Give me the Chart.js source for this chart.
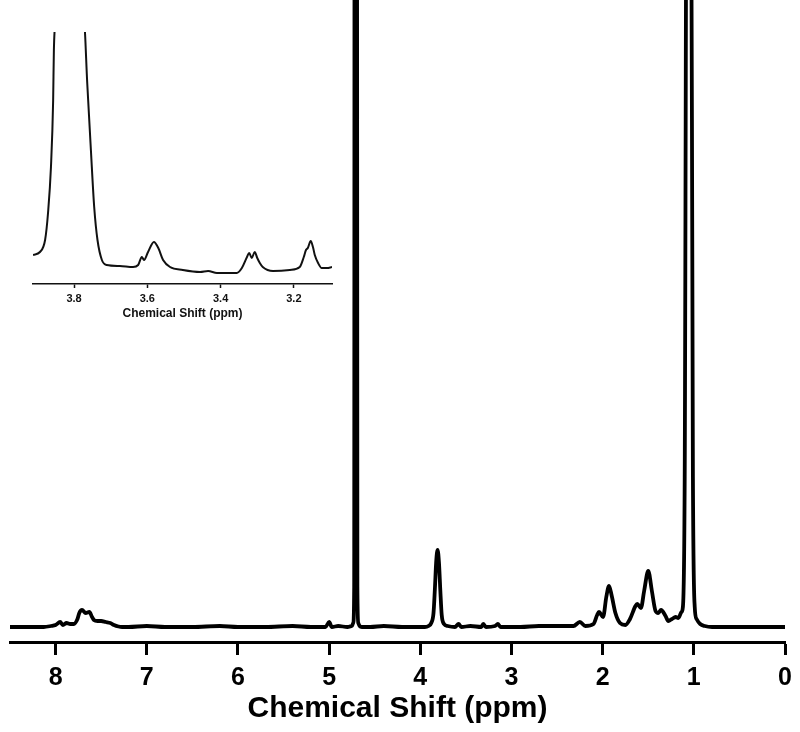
<!DOCTYPE html>
<html>
<head>
<meta charset="utf-8">
<script src="https://cdn.jsdelivr.net/npm/chart.js@4.4.0/dist/chart.umd.min.js"></script>
<style>
  body { margin: 0; background: #fff; }
  #wrap { position: relative; width: 800px; height: 732px; }
  #mainChart { position: absolute; left: 0; top: 0; }
  #insetChart { position: absolute; left: 0; top: 0; }
</style>
</head>
<body>
<div id="wrap">
  <canvas id="mainChart" width="800" height="732"></canvas>
  <canvas id="insetChart" width="345" height="330"></canvas>
</div>
<script>
// main spectrum, chemical shift (ppm) and intensity above baseline
const mainPpm = [
  8.50, 8.30, 8.13, 8.05, 8.00, 7.95, 7.92, 7.88, 7.84, 7.80, 7.76, 7.74, 7.71, 7.67, 7.63, 7.60, 7.58,
  7.54, 7.50, 7.45, 7.40, 7.36, 7.31, 7.27, 7.20, 7.00, 6.80, 6.50, 6.20, 6.00, 5.70, 5.40, 5.20, 5.04,
  5.00, 4.97, 4.90, 4.80, 4.75, 4.735, 4.725, 4.72, 4.695, 4.69, 4.68, 4.665, 4.64, 4.55, 4.40,
  4.20, 4.05, 3.95, 3.91, 3.88, 3.855, 3.84, 3.825, 3.81, 3.795, 3.78, 3.765, 3.74, 3.70, 3.62,
  3.58, 3.55, 3.45, 3.33, 3.31, 3.28, 3.18, 3.15, 3.12, 2.90, 2.70, 2.54, 2.40, 2.32, 2.25, 2.19,
  2.10, 2.06, 2.04, 1.995, 1.96, 1.93, 1.90, 1.86, 1.81, 1.75, 1.70, 1.64, 1.62, 1.58, 1.545,
  1.50, 1.46, 1.42, 1.39, 1.36, 1.31, 1.28, 1.24, 1.20, 1.17, 1.135, 1.12, 1.10, 1.075, 1.035,
  1.01, 0.99, 0.97, 0.93, 0.88, 0.80, 0.60, 0.40, 0.20, 0.00
];
const mainIntensity = [
  0, 0, 0, 1, 2, 5, 2, 4, 3, 3, 8, 14, 17, 14, 15, 10, 7,
  6, 6, 5, 4, 2, 0.5, 0, 0, 1, 0, 0, 1, 0, 0, 1, 0, 0,
  5, 0, 1, 0, 1, 4, 40, 900, 900, 40, 4, 1, 0, 0, 1,
  0, 0, 0, 1, 4, 14, 38, 66, 77, 64, 36, 12, 3, 1, 0,
  3, 0, 1, 0, 3, 0, 1, 3, 0, 0, 1, 1, 1, 1, 5, 1,
  3, 12, 15, 10, 30, 41, 31, 14, 4, 2, 8, 21, 23, 19, 36,
  56, 36, 16, 14, 17, 11, 6, 8, 10, 9, 15, 20, 150, 900, 900,
  150, 20, 8, 3, 1, 0, 0, 0, 0, 0
];

// inset, zoom on 3.9 - 3.1 ppm
const insetPpm = [
  3.912, 3.893, 3.879, 3.871, 3.863, 3.857, 3.855, 3.849, 3.773, 3.764, 3.754, 3.745, 3.736,
  3.724, 3.711, 3.675, 3.639, 3.625, 3.615, 3.609, 3.598, 3.582, 3.570, 3.557, 3.538, 3.503,
  3.456, 3.434, 3.410, 3.356, 3.342, 3.328, 3.322, 3.315, 3.307, 3.300, 3.293, 3.285, 3.257,
  3.211, 3.184, 3.173, 3.167, 3.162, 3.154, 3.148, 3.143, 3.134, 3.124, 3.110, 3.096
];
const insetIntensity = [
  29, 32, 44, 71, 117, 184, 234, 262, 262, 201, 134, 77, 44,
  24, 19, 18, 17, 19, 27, 24, 32, 42, 36, 24, 17, 14,
  12, 13, 11, 11, 16, 27, 31, 26, 32, 26, 21, 17, 13,
  14, 17, 27, 34, 36, 43, 37, 29, 21, 16, 16, 17
];

const mainTicks = [8, 7, 6, 5, 4, 3, 2, 1, 0];
const insetTicks = [3.8, 3.6, 3.4, 3.2];

const fontFamily = "'Liberation Sans', Arial, sans-serif";

function toPoints(xs, ys) {
  return xs.map((x, i) => ({ x: x, y: ys[i] }));
}

function fixTicks(list) {
  return function (scale) {
    scale.ticks = list.map(v => ({ value: v }));
  };
}

// main chart
new Chart(document.getElementById('mainChart'), {
  type: 'scatter',
  data: {
    datasets: [{
      data: toPoints(mainPpm, mainIntensity),
      showLine: true,
      borderColor: '#000',
      borderWidth: 3.8,
      pointRadius: 0,
      cubicInterpolationMode: 'monotone'
    }]
  },
  options: {
    responsive: false,
    animation: false,
    layout: { padding: { left: 10, right: 15, top: 0, bottom: 0 } },
    plugins: { legend: { display: false }, tooltip: { enabled: false } },
    scales: {
      x: {
        type: 'linear',
        min: 0,
        max: 8.5,
        reverse: true,
        afterBuildTicks: fixTicks(mainTicks),
        afterFit: (scale) => { scale.height = 90; scale.paddingLeft = 0; scale.paddingRight = 0; },
        grid: { drawOnChartArea: false, drawTicks: true, tickLength: 13, tickWidth: 3, tickColor: '#000' },
        border: { display: true, width: 3, color: '#000' },
        ticks: {
          color: '#000',
          padding: 8,
          maxRotation: 0,
          autoSkip: false,
          font: { family: fontFamily, size: 25, weight: 'bold' }
        },
        title: {
          display: true,
          text: 'Chemical Shift (ppm)',
          color: '#000',
          padding: { top: 0, bottom: 5 },
          font: { family: fontFamily, size: 30, weight: 'bold' }
        }
      },
      y: {
        display: false,
        min: -15,
        max: 627
      }
    }
  }
});

// inset chart
new Chart(document.getElementById('insetChart'), {
  type: 'scatter',
  data: {
    datasets: [{
      data: toPoints(insetPpm, insetIntensity),
      showLine: true,
      borderColor: '#111',
      borderWidth: 2,
      pointRadius: 0,
      cubicInterpolationMode: 'monotone'
    }]
  },
  options: {
    responsive: false,
    animation: false,
    layout: { padding: { left: 33, right: 13, top: 32, bottom: 0 } },
    plugins: { legend: { display: false }, tooltip: { enabled: false } },
    scales: {
      x: {
        type: 'linear',
        min: 3.096,
        max: 3.912,
        reverse: true,
        afterBuildTicks: fixTicks(insetTicks),
        afterFit: (scale) => { scale.height = 46; scale.paddingLeft = 0; scale.paddingRight = 0; },
        grid: { drawOnChartArea: false, drawTicks: true, tickLength: 4, tickWidth: 1.5, tickColor: '#111' },
        border: { display: true, width: 1.5, color: '#111' },
        ticks: {
          color: '#111',
          padding: 4,
          maxRotation: 0,
          autoSkip: false,
          callback: (v) => v.toFixed(1),
          font: { family: fontFamily, size: 11, weight: 'bold' }
        },
        title: {
          display: true,
          text: 'Chemical Shift (ppm)',
          color: '#111',
          padding: { top: 0, bottom: 9 },
          font: { family: fontFamily, size: 12, weight: 'bold' }
        }
      },
      y: {
        display: false,
        min: 0,
        max: 252
      }
    }
  }
});
</script>
</body>
</html>
